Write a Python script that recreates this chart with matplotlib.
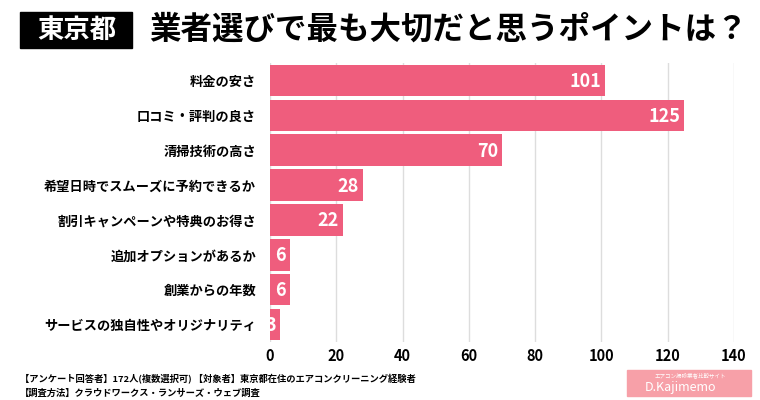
import numpy as np
import matplotlib.pyplot as plt
from matplotlib.patches import Rectangle

plt.rcParams['font.family'] = ['Noto Sans CJK JP', 'DejaVu Sans']

# data
categories = ["料金の安さ", "口コミ・評判の良さ", "清掃技術の高さ",
              "希望日時でスムーズに予約できるか", "割引キャンペーンや特典のお得さ",
              "追加オプションがあるか", "創業からの年数", "サービスの独自性やオリジナリティ"]
counts = [101, 125, 70, 28, 22, 6, 6, 3]
xticks = [0, 20, 40, 60, 80, 100, 120, 140]

BAR_COLOR = "#EF5D7D"

fig = plt.figure(figsize=(7.6, 4.0), dpi=100)
ax = fig.add_axes([270/760, 1-342/400, 464/760, 279/400])

y = np.arange(len(categories))
ax.barh(y, counts, height=0.9, color=BAR_COLOR, zorder=3)
for yi, v in zip(y, counts):
    ax.text(v - 1.2, yi + 0.03, str(v), ha="right", va="center", color="white",
            fontsize=13, fontweight="bold", zorder=4)

ax.set_xlim(0, 140)
ax.set_ylim(len(categories) - 0.5, -0.5)
ax.set_xticks(xticks)
ax.set_xticklabels([str(t) for t in xticks], fontsize=10.5, fontweight="bold")
ax.set_yticks(y)
ax.set_yticklabels(categories, fontsize=9.5, fontweight="bold")
ax.tick_params(axis="both", length=0)
ax.tick_params(axis="y", pad=10)
ax.tick_params(axis="x", pad=4)
ax.grid(axis="x", color="#DDDDDD", linewidth=1, zorder=0)
for s in ax.spines.values():
    s.set_visible(False)

# title
fig.patches.append(Rectangle((20/760, 1-48/400), 112/760, 36/400,
                             transform=fig.transFigure, color="black"))
fig.text(77/760, 1-30/400, "東京都", color="white", fontsize=19, fontweight="bold",
         ha="center", va="center")
fig.text(149/760, 1-30/400, "業者選びで最も大切だと思うポイントは？", color="black",
         fontsize=22.7, fontweight="bold", ha="left", va="center")

# footer
fig.text(20/760, 1-379/400, "【アンケート回答者】172人(複数選択可) 【対象者】東京都在住のエアコンクリーニング経験者",
         fontsize=6.7, fontweight="bold", ha="left", va="center")
fig.text(20/760, 1-393/400, "【調査方法】クラウドワークス・ランサーズ・ウェブ調査",
         fontsize=6.7, fontweight="bold", ha="left", va="center")

# logo
fig.patches.append(Rectangle((627/760, 1-396/400), 124/760, 26/400,
                             transform=fig.transFigure, color="#F7A0A8"))
fig.text(690/760, 1-375/400, "エアコン掃除業者比較サイト", color="white", fontsize=4,
         ha="center", va="center")
fig.text(680/760, 1-388/400, "D.Kajimemo", color="white", fontsize=9,
         ha="center", va="center", style="italic")

fig.savefig("out.png", dpi=100)
